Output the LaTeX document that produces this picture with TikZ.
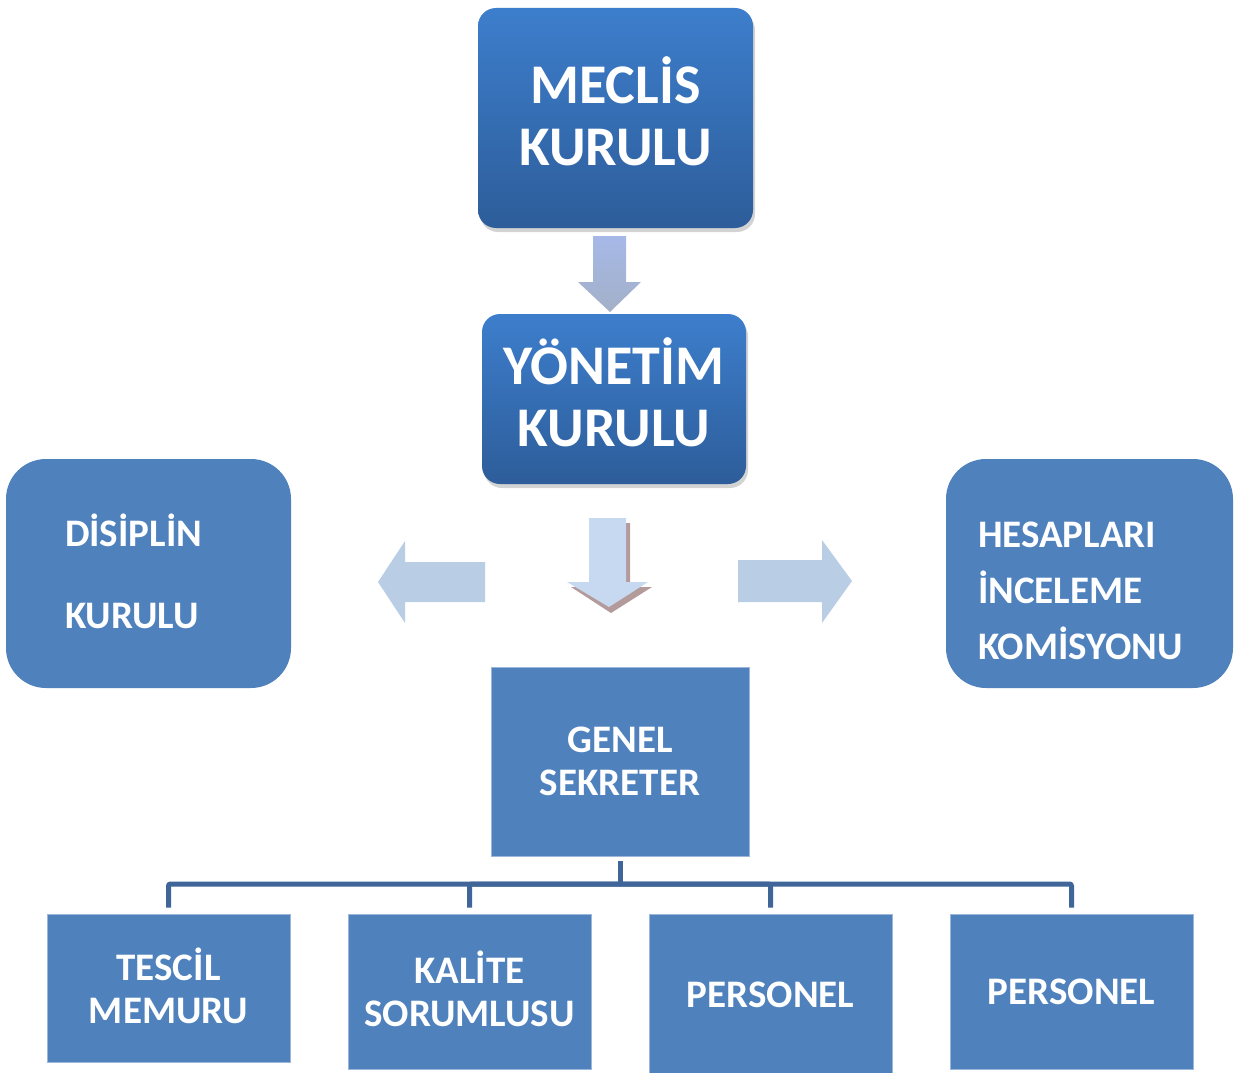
\documentclass[tikz,border=0pt]{standalone}
\usepackage{fontspec}
\setmainfont{Carlito}
\usepackage{tikz}
\usetikzlibrary{positioning,shadows}

\definecolor{boxblue}{HTML}{4F81BD}
\definecolor{boxedge}{HTML}{9DB7DA}
\definecolor{topblue}{HTML}{3D7ECC}
\definecolor{botblue}{HTML}{2D5D9A}
\definecolor{arrowpale}{HTML}{B9CDE5}
\definecolor{arrowlight}{HTML}{C6D9F1}
\definecolor{arrowshade}{HTML}{B39A9B}
\definecolor{linkblue}{HTML}{3F6599}

\begin{document}
\begin{tikzpicture}[
  x=1pt, y=-1pt,
  headbox/.style={rectangle,rounded corners=18pt,top color=topblue,bottom color=botblue,
    text=white,align=center,inner sep=0pt,text height=94pt,text depth=0pt,
    font=\bfseries\fontsize{56}{62}\selectfont,
    drop shadow={opacity=0.35,shadow xshift=2pt,shadow yshift=-4pt}},
  sidebox/.style={rectangle,rounded corners=40pt,fill=boxblue,text=white,align=left,
    inner ysep=0pt,text height=30pt,font=\bfseries\fontsize{39}{56}\selectfont},
  unitbox/.style={rectangle,fill=boxblue,draw=boxedge,line width=0.8pt,text=white,
    align=center,inner sep=0pt,font=\bfseries\fontsize{39}{43}\selectfont},
  twoline/.style={text height=#1,text depth=0pt},
  orgline/.style={draw=linkblue,line width=5pt,rounded corners=2pt}]

  \useasboundingbox (0,0) rectangle (1235,1073);

  % boards
  \node[headbox,minimum width=275pt,minimum height=220pt] (meclis) at (615.5,118) {MECLİS\\KURULU};
  \node[headbox,minimum width=264pt,minimum height=170pt] (yonetim) at (614,399) {YÖNETİM\\KURULU};

  \node[sidebox,text depth=85pt,minimum height=229pt,inner xsep=59pt,text width=167pt] (disiplin) at (148.5,573.5)
    {DİSİPLİN\\[26pt]KURULU};
  \node[sidebox,text depth=83pt,minimum height=229pt,inner xsep=32pt,text width=223pt] (hesap) at (1089.5,573.5)
    {HESAPLARI\\İNCELEME\\KOMİSYONU};

  \node[unitbox,twoline=67pt,minimum width=258pt,minimum height=189pt] (genel) at (620,761.5) {GENEL\\SEKRETER};

  % units
  \node[unitbox,twoline=70pt,minimum width=243pt,minimum height=148pt] (tescil) at (168.5,988) {TESCİL\\MEMURU};
  \node[unitbox,twoline=69pt,minimum width=243pt,minimum height=155pt] (kalite) at (469.5,991.5) {KALİTE\\SORUMLUSU};
  \node[unitbox,minimum width=243pt,minimum height=162pt] (pers1) at (770.5,995) {PERSONEL};
  \node[unitbox,minimum width=243pt,minimum height=155pt] (pers2) at (1071.5,991.5) {PERSONEL};

  % block arrows
  \path[top color=arrowpale!90!blue,bottom color=arrowshade!20!linkblue!55!white]
    (593,236) -- (626,236) -- (626,282) -- (641,282) -- (610,312) -- (578,282) -- (593,282) -- cycle;
  \fill[arrowshade] (593,523) -- (630,523) -- (630,587) -- (652,587) -- (611,613) -- (571,587) -- (593,587) -- cycle;
  \fill[arrowlight] (589,518) -- (626,518) -- (626,582) -- (648,582) -- (609,607) -- (567,582) -- (589,582) -- cycle;
  \fill[arrowpale] (485,562) -- (405,562) -- (405,541) -- (378,582) -- (405,623) -- (405,602) -- (485,602) -- cycle;
  \fill[arrowpale] (738,560) -- (822,560) -- (822,540) -- (852,581) -- (822,623) -- (822,602) -- (738,602) -- cycle;

  % links to units
  \coordinate (bus) at (620,884);
  \draw[orgline] ([yshift=-5pt]genel.south) -- (bus);
  \foreach \n in {tescil,kalite,pers1,pers2}
    \draw[orgline] (bus) -| ([yshift=6pt]\n.north);
\end{tikzpicture}
\end{document}
